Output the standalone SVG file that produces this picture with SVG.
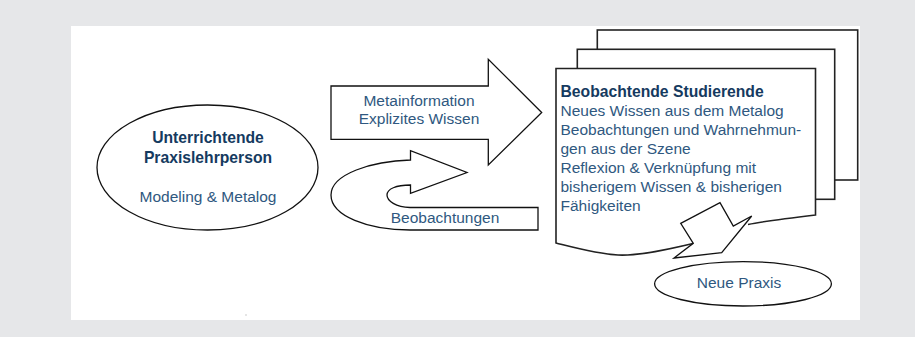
<svg xmlns="http://www.w3.org/2000/svg" width="915" height="337" viewBox="0 0 915 337">
<style>
.shape{fill:#fff;stroke:#111;stroke-width:1.3;stroke-linejoin:miter}
.page{fill:#fff;stroke:#222;stroke-width:1.6}
.t{font-family:"Liberation Sans",Arial,Helvetica,sans-serif;font-size:15.5px;fill:#2f5880}
.b{font-family:"Liberation Sans",Arial,Helvetica,sans-serif;font-size:15.7px;font-weight:bold;fill:#153a60}
</style>
<rect x="0" y="0" width="915" height="337" fill="#e6e7e9"/>
<rect x="71" y="26" width="789" height="294" fill="#fff"/>
<rect x="245.5" y="314.5" width="1" height="1" fill="#999"/>

<g id="connectors">
  <g id="arrow-metainformation">
    <path class="shape" d="M331,86 H488.3 V59.3 L541.7,112.5 L488.3,165 V139.3 H331 Z"/>
    <text class="t" x="419" y="106" text-anchor="middle">Metainformation</text>
    <text class="t" x="419" y="124" text-anchor="middle">Explizites Wissen</text>
  </g>
  <g id="arrow-beobachtungen">
    <path class="shape" d="M410.5,160 C372,161 331,174 331,195 C331,216 368,230 410,230 H538 V207.5 H410 C396,207 387,201 387,195 C387,189 396,185 410.5,185 V193.3 L467,172.5 L410.5,150.7 Z"/>
    <text class="t" x="445" y="222.5" text-anchor="middle">Beobachtungen</text>
  </g>
</g>

<g id="node-praxislehrperson">
  <ellipse class="shape" cx="207.5" cy="167.5" rx="110.5" ry="62.5"/>
  <text class="b" x="208" y="143.3" text-anchor="middle">Unterrichtende</text>
  <text class="b" x="208" y="163.3" text-anchor="middle">Praxislehrperson</text>
  <text class="t" x="208" y="201.5" text-anchor="middle">Modeling &amp; Metalog</text>
</g>

<g id="node-studierende">
  <rect class="page" x="597.3" y="30" width="260.4" height="150"/>
  <rect class="page" x="577.3" y="49.3" width="257.4" height="150"/>
  <path d="M556,68.5 H815 V215 C790,218 765,221 748,224.5 L693,243.5 C670,249 640,256 618,255 C598,254 576,248 556,243 Z" fill="#fff"/>
  <path class="page" fill="none" d="M748,224.5 C765,221 790,218 815.5,215 V68.5 H556 V243 C576,248 598,254 618,255 C640,256 670,249 693,243.5"/>
  <path class="shape" d="M680.7,223.3 L720,202.7 L733.3,226 L751.7,216 L721.7,252.7 L674,258 L693.3,243.3 Z"/>
  <text class="b" x="560.5" y="96.5">Beobachtende Studierende</text>
  <text class="t" x="560.5" y="115.5">Neues Wissen aus dem Metalog</text>
  <text class="t" x="560.5" y="134.5">Beobachtungen und Wahrnehmun-</text>
  <text class="t" x="560.5" y="153.5">gen aus der Szene</text>
  <text class="t" x="560.5" y="172.5">Reflexion &amp; Verknüpfung mit</text>
  <text class="t" x="560.5" y="191.5">bisherigem Wissen &amp; bisherigen</text>
  <text class="t" x="560.5" y="210.5">Fähigkeiten</text>
</g>

<g id="node-neue-praxis">
  <ellipse class="shape" cx="743" cy="283.8" rx="88.4" ry="22.2"/>
  <text class="t" x="739" y="288" text-anchor="middle">Neue Praxis</text>
</g>
</svg>
